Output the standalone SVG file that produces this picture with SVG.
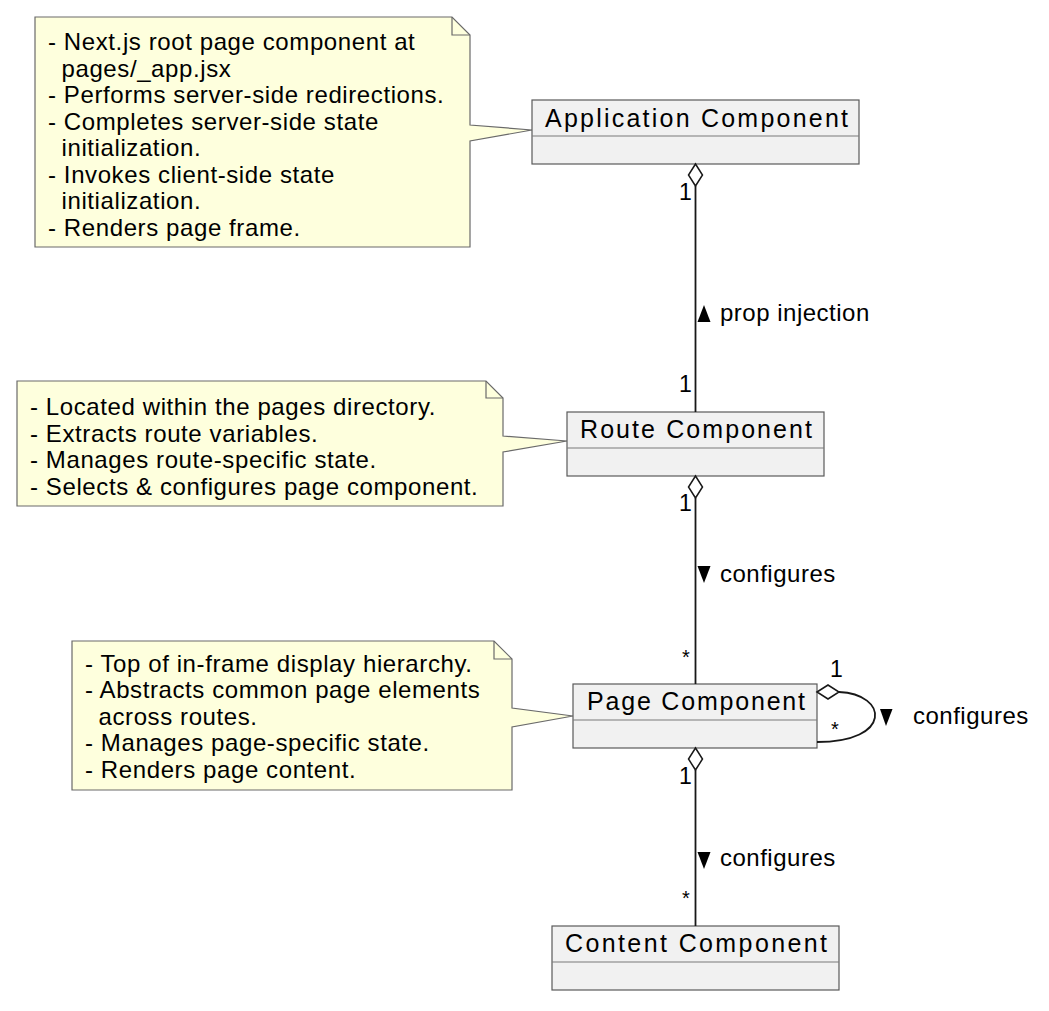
<svg xmlns="http://www.w3.org/2000/svg" width="1049" height="1011" viewBox="0 0 1049 1011">
<style>
  .note { fill: #FEFFDD; stroke: #6a6a6a; stroke-width: 1.2; }
  .fold { fill: none; stroke: #6a6a6a; stroke-width: 1.2; }
  .cls { fill: #F1F1F1; stroke: #5a5a5a; stroke-width: 1.2; }
  .sep { stroke: #7a7a7a; stroke-width: 1.2; }
  .ntxt { font-family: "Liberation Sans", Arial, sans-serif; font-size: 24px; letter-spacing: 0.6px; fill: #000; }
  .ctxt { font-family: "Liberation Sans", Arial, sans-serif; font-size: 25px; fill: #000; }
  .ltxt { font-family: "Liberation Sans", Arial, sans-serif; font-size: 24px; letter-spacing: 0.5px; fill: #000; }
  .mtxt { font-family: "Liberation Sans", Arial, sans-serif; font-size: 23px; fill: #000; }
  .link { fill: none; stroke: #181818; stroke-width: 1.8; }
  .dia { fill: #FFFFFF; stroke: #181818; stroke-width: 1.5; }
  .tri { fill: #000; }
</style>

<g id="note-app">
  <path class="note" d="M35,17 L452,17 L470,35 L470,125 L532,130 L470,141 L470,247 L35,247 Z"/>
  <path class="fold" d="M452,17 L452,35 L470,35"/>
  <text class="ntxt" x="48" y="50">- Next.js root page component at</text>
  <text class="ntxt" x="61.5" y="76.5">pages/_app.jsx</text>
  <text class="ntxt" x="48" y="103">- Performs server-side redirections.</text>
  <text class="ntxt" x="48" y="129.5">- Completes server-side state</text>
  <text class="ntxt" x="61.5" y="156">initialization.</text>
  <text class="ntxt" x="48" y="182.5">- Invokes client-side state</text>
  <text class="ntxt" x="61.5" y="209">initialization.</text>
  <text class="ntxt" x="48" y="235.5">- Renders page frame.</text>
</g>

<g id="note-route">
  <path class="note" d="M17,381 L486,381 L503,398 L503,436 L567,441 L503,452 L503,506 L17,506 Z"/>
  <path class="fold" d="M486,381 L486,398 L503,398"/>
  <text class="ntxt" x="30" y="415">- Located within the pages directory.</text>
  <text class="ntxt" x="30" y="441.5">- Extracts route variables.</text>
  <text class="ntxt" x="30" y="468">- Manages route-specific state.</text>
  <text class="ntxt" x="30" y="494.5">- Selects &amp; configures page component.</text>
</g>

<g id="note-page">
  <path class="note" d="M72,641 L494,641 L512,659 L512,708 L573,716 L512,727 L512,790 L72,790 Z"/>
  <path class="fold" d="M494,641 L494,659 L512,659"/>
  <text class="ntxt" x="85" y="671.5">- Top of in-frame display hierarchy.</text>
  <text class="ntxt" x="85" y="698">- Abstracts common page elements</text>
  <text class="ntxt" x="98.5" y="724.5">across routes.</text>
  <text class="ntxt" x="85" y="751">- Manages page-specific state.</text>
  <text class="ntxt" x="85" y="777.5">- Renders page content.</text>
</g>

<g id="class-application">
  <rect class="cls" x="532" y="100" width="327" height="64"/>
  <line class="sep" x1="532" y1="136" x2="859" y2="136"/>
  <text class="ctxt" x="545" y="127" textLength="303" lengthAdjust="spacing">Application Component</text>
</g>

<g id="class-route">
  <rect class="cls" x="567" y="412" width="257" height="64"/>
  <line class="sep" x1="567" y1="448" x2="824" y2="448"/>
  <text class="ctxt" x="580" y="438" textLength="232" lengthAdjust="spacing">Route Component</text>
</g>

<g id="class-page">
  <rect class="cls" x="573" y="684" width="244" height="64"/>
  <line class="sep" x1="573" y1="720" x2="817" y2="720"/>
  <text class="ctxt" x="587" y="710" textLength="218" lengthAdjust="spacing">Page Component</text>
</g>

<g id="class-content">
  <rect class="cls" x="552" y="926" width="287" height="64"/>
  <line class="sep" x1="552" y1="962" x2="839" y2="962"/>
  <text class="ctxt" x="565" y="952" textLength="262" lengthAdjust="spacing">Content Component</text>
</g>

<g id="connectors">
  <!-- Application -> Route -->
  <line class="link" x1="695.5" y1="186" x2="695.5" y2="412"/>
  <polygon class="dia" points="695.5,164 688.5,175 695.5,186 702.5,175"/>
  <text class="mtxt" x="679" y="200">1</text>
  <text class="mtxt" x="679" y="392">1</text>
  <polygon class="tri" points="697.5,322 710.5,322 704,305"/>
  <text class="ltxt" x="720" y="321">prop injection</text>

  <!-- Route -> Page -->
  <line class="link" x1="695.5" y1="498" x2="695.5" y2="684"/>
  <polygon class="dia" points="695.5,476 688.5,487 695.5,498 702.5,487"/>
  <text class="mtxt" x="679" y="511">1</text>
  <text class="mtxt" x="686" y="664" text-anchor="middle" style="font-size:20px">*</text>
  <polygon class="tri" points="697.5,566 710.5,566 704,583"/>
  <text class="ltxt" x="720" y="582">configures</text>

  <!-- Page self loop -->
  <path class="link" d="M839,692 C888,694 893,742 817,742"/>
  <polygon class="dia" points="817,692 828,685 839,692 828,699"/>
  <text class="mtxt" x="830" y="677">1</text>
  <text class="mtxt" x="835" y="736" text-anchor="middle" style="font-size:20px">*</text>
  <polygon class="tri" points="880,709 892.5,709 886,726"/>
  <text class="ltxt" x="913" y="724">configures</text>

  <!-- Page -> Content -->
  <line class="link" x1="695.5" y1="770" x2="695.5" y2="926"/>
  <polygon class="dia" points="695.5,748 688.5,759 695.5,770 702.5,759"/>
  <text class="mtxt" x="679" y="784">1</text>
  <text class="mtxt" x="686" y="905" text-anchor="middle" style="font-size:20px">*</text>
  <polygon class="tri" points="697.5,852 710.5,852 704,869"/>
  <text class="ltxt" x="720" y="866">configures</text>
</g>
</svg>
